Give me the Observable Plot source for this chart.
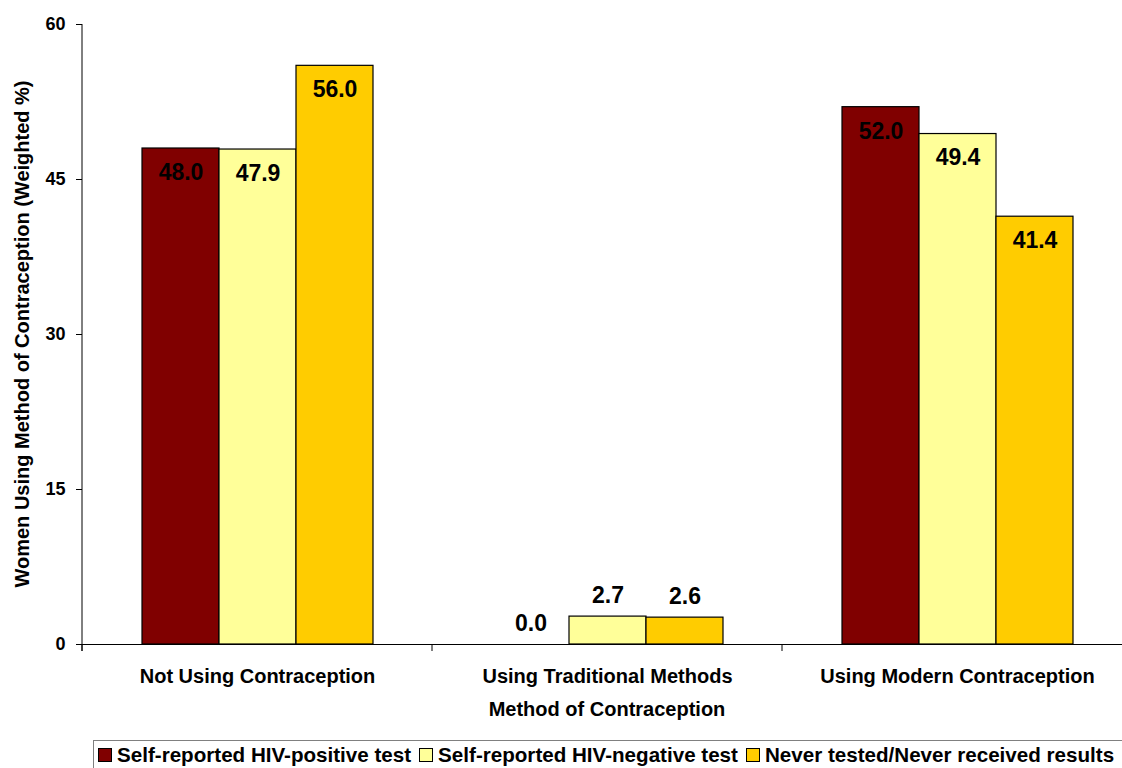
<!DOCTYPE html>
<html><head><meta charset="utf-8">
<script src="https://cdn.jsdelivr.net/npm/d3@7"></script>
<script src="https://cdn.jsdelivr.net/npm/@observablehq/plot@0.6"></script>
<style>
body{margin:0;background:#fff;overflow:hidden;font-family:"Liberation Sans",Arial,sans-serif;}
#wrap{position:relative;width:1122px;height:768px;overflow:hidden;}
#chart{position:absolute;left:0;top:0;}
#xlabel{position:absolute;top:698px;left:82px;width:1050px;text-align:center;font-weight:bold;font-size:20px;line-height:23px;}
#ylabel{position:absolute;left:22px;top:334px;width:600px;margin-left:-300px;margin-top:-12px;text-align:center;font-weight:bold;font-size:20px;line-height:24px;transform:rotate(-90deg);white-space:nowrap;}
#legend{position:absolute;left:93px;top:740px;height:34px;border:1px solid #808080;padding:0 20px 0 4px;white-space:nowrap;font-weight:bold;font-size:20.6px;display:flex;align-items:flex-start;}
#legend .item{display:flex;align-items:center;margin-right:8px;height:27px;}
#legend .sw{width:12px;height:12px;border:1px solid #000;margin-right:5px;}
</style></head><body>
<div id="wrap"><div id="chart"></div><div id="ylabel"></div><div id="xlabel"></div><div id="legend"></div></div>
<script>
const categories = ["Not Using Contraception", "Using Traditional Methods", "Using Modern Contraception"];
const series = ["Self-reported HIV-positive test", "Self-reported HIV-negative test", "Never tested/Never received results"];
const colors = ["#800000", "#FFFF99", "#FFCC00"];
const positiveValues = [48.0, 0.0, 52.0];
const negativeValues = [47.9, 2.7, 49.4];
const neverValues = [56.0, 2.6, 41.4];
const yTicks = [0, 15, 30, 45, 60];
const yLabel = "Women Using Method of Contraception (Weighted %)";
const xLabel = "Method of Contraception";

const seriesValues = [positiveValues, negativeValues, neverValues];
const data = categories.flatMap((c, i) => series.map((s, j) => ({category: c, series: s, value: seriesValues[j][i]})));

const font = '"Liberation Sans", Arial, sans-serif';
const plot = Plot.plot({
  width: 1122, height: 700,
  marginLeft: 82, marginRight: -10, marginTop: 24, marginBottom: 56,
  style: {fontFamily: font, fontWeight: "bold", fontSize: "18px", color: "#000", background: "transparent", overflow: "visible"},
  fx: {domain: categories, padding: 0, label: null},
  x: {domain: series, paddingInner: 0, paddingOuter: 0.744, axis: null},
  y: {domain: [0, 60]},
  color: {domain: series, range: colors},
  marks: [
    Plot.axisFx({anchor: "bottom", tickSize: 0, tickPadding: 24, fontSize: 20, label: null}),
    Plot.axisY(yTicks, {tickSize: 6, tickPadding: 11, fontSize: 18, label: null}),
    Plot.barY(data.filter(d => d.value > 0), {fx: "category", x: "series", y: "value", fill: "series", stroke: "#000", strokeWidth: 1.2}),
    Plot.ruleY([0], {stroke: "#000", strokeWidth: 1}),
    Plot.text(data.filter(d => d.value >= 10), {fx: "category", x: "series", y: "value", text: d => d.value.toFixed(1), dy: 24, fontSize: 23, fill: "#000"}),
    Plot.text(data.filter(d => d.value < 10), {fx: "category", x: "series", y: "value", text: d => d.value.toFixed(1), dy: -21, fontSize: 23, fill: "#000"})
  ]
});
document.getElementById("chart").appendChild(plot);

// axis line and category boundary ticks from the plot's scales
const yS = plot.scale("y"), fxS = plot.scale("fx");
const svg = d3.select(plot);
const y0 = yS.apply(0), yTop = yS.apply(60);
const x0 = fxS.apply(categories[0]);
svg.append("line").attr("x1", x0).attr("x2", x0).attr("y1", yTop).attr("y2", y0 + 7).attr("stroke", "#000");
categories.forEach(c => {
  const xx = fxS.apply(c);
  svg.append("line").attr("x1", xx).attr("x2", xx).attr("y1", y0).attr("y2", y0 + 7).attr("stroke", "#000");
});

document.getElementById("xlabel").textContent = xLabel;
document.getElementById("ylabel").textContent = yLabel;
const legend = document.getElementById("legend");
series.forEach((s, i) => {
  const it = document.createElement("div"); it.className = "item";
  const sw = document.createElement("div"); sw.className = "sw"; sw.style.background = colors[i];
  const t = document.createElement("span"); t.textContent = s;
  it.appendChild(sw); it.appendChild(t); legend.appendChild(it);
});
</script>
</body></html>
